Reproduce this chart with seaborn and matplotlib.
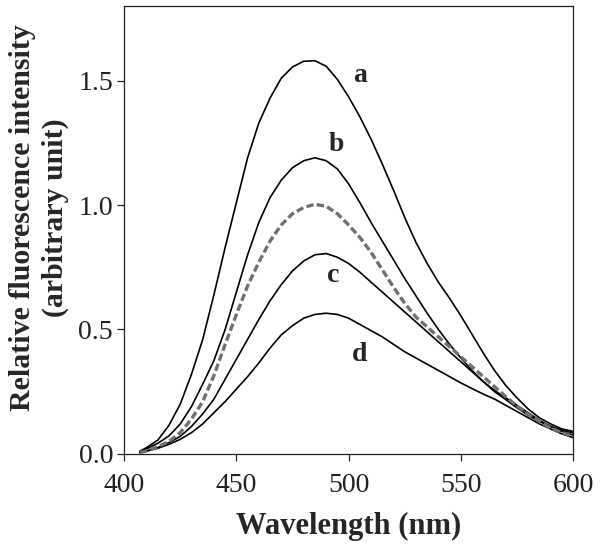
import numpy as np
import pandas as pd
import seaborn as sns
import matplotlib.pyplot as plt

# wavelength grid (nm)
wavelength = [407, 410, 415, 420, 425, 430, 435, 440, 445, 450, 455, 460, 465, 470,
              475, 480, 485, 490, 495, 500, 505, 510, 515, 520, 525, 530, 535, 540,
              545, 550, 555, 560, 565, 570, 575, 580, 585, 590, 595, 600]

curve_a = [0.01, 0.025, 0.055, 0.115, 0.2, 0.32, 0.46, 0.64, 0.83, 1.01, 1.19, 1.33, 1.43, 1.51,
           1.555, 1.578, 1.58, 1.558, 1.505, 1.435, 1.355, 1.265, 1.165, 1.06, 0.95, 0.85, 0.765, 0.69,
           0.625, 0.555, 0.48, 0.405, 0.335, 0.275, 0.225, 0.18, 0.145, 0.12, 0.1, 0.09]
curve_b = [0.008, 0.02, 0.042, 0.072, 0.12, 0.19, 0.28, 0.375, 0.50, 0.65, 0.80, 0.93, 1.03, 1.10,
           1.15, 1.178, 1.19, 1.178, 1.145, 1.085, 1.01, 0.93, 0.855, 0.78, 0.705, 0.635, 0.565, 0.50,
           0.44, 0.385, 0.335, 0.29, 0.25, 0.218, 0.185, 0.155, 0.13, 0.11, 0.095, 0.084]
curve_ref = [0.005, 0.012, 0.028, 0.05, 0.085, 0.14, 0.21, 0.315, 0.44, 0.56, 0.675, 0.77, 0.855, 0.92,
             0.965, 0.99, 1.003, 0.995, 0.965, 0.92, 0.87, 0.81, 0.74, 0.67, 0.605, 0.55, 0.51, 0.47,
             0.43, 0.39, 0.35, 0.31, 0.27, 0.23, 0.192, 0.16, 0.13, 0.103, 0.085, 0.07]
curve_c = [0.005, 0.012, 0.025, 0.045, 0.07, 0.11, 0.16, 0.22, 0.30, 0.38, 0.46, 0.54, 0.615, 0.68,
           0.735, 0.775, 0.80, 0.805, 0.79, 0.765, 0.73, 0.69, 0.65, 0.61, 0.57, 0.53, 0.49, 0.45,
           0.41, 0.37, 0.33, 0.29, 0.255, 0.225, 0.195, 0.165, 0.135, 0.11, 0.09, 0.075]
curve_d = [0.004, 0.01, 0.022, 0.038, 0.058, 0.085, 0.12, 0.165, 0.21, 0.26, 0.31, 0.365, 0.425, 0.478,
           0.515, 0.545, 0.56, 0.565, 0.56, 0.545, 0.52, 0.495, 0.47, 0.44, 0.41, 0.385, 0.36, 0.335,
           0.31, 0.285, 0.262, 0.24, 0.22, 0.195, 0.17, 0.145, 0.12, 0.1, 0.08, 0.065]

# curve letters and where they sit (wavelength, intensity)
letters = ['a', 'b', 'c', 'd']
letter_x = [505, 494.5, 493, 505]
letter_y = [1.52, 1.245, 0.715, 0.40]

sns.set_style("ticks")
plt.rcParams['font.family'] = ['Liberation Serif', 'DejaVu Serif']

fig = plt.figure(figsize=(6, 5.48), dpi=100)
ax = fig.add_axes([0.207, 0.172, 0.748, 0.817])

for y in [curve_a, curve_b, curve_c, curve_d]:
    sns.lineplot(x=wavelength, y=y, ax=ax, color='black', linewidth=1.2)
sns.lineplot(x=wavelength, y=curve_ref, ax=ax, color='#707070', linewidth=2.4)
ax.lines[-1].set_dashes((2.2, 1.0))

for t, lx, ly in zip(letters, letter_x, letter_y):
    ax.text(lx, ly, t, fontsize=20, fontweight='bold', ha='center', va='center')

ax.set_xlim(400, 600)
ax.set_ylim(0, 1.8)
ax.set_xticks([400, 450, 500, 550, 600])
ax.set_yticks([0.0, 0.5, 1.0, 1.5])
ax.set_yticklabels(['0.0', '0.5', '1.0', '1.5'])
ax.tick_params(labelsize=20, length=5, width=0.9, direction='out', colors='#222222')
ax.tick_params(axis='x', pad=9)
ax.tick_params(axis='y', pad=3)
for s in ax.spines.values():
    s.set_linewidth(0.9)
    s.set_color('#222222')

ax.set_xlabel('Wavelength (nm)', fontsize=22, fontweight='bold', labelpad=10)
ax.set_ylabel('Relative fluorescence intensity\n(arbitrary unit)', fontsize=21.5,
              fontweight='bold', linespacing=1.25)
ax.yaxis.set_label_coords(-0.124, 0.527)

plt.savefig('out.png', dpi=100)
